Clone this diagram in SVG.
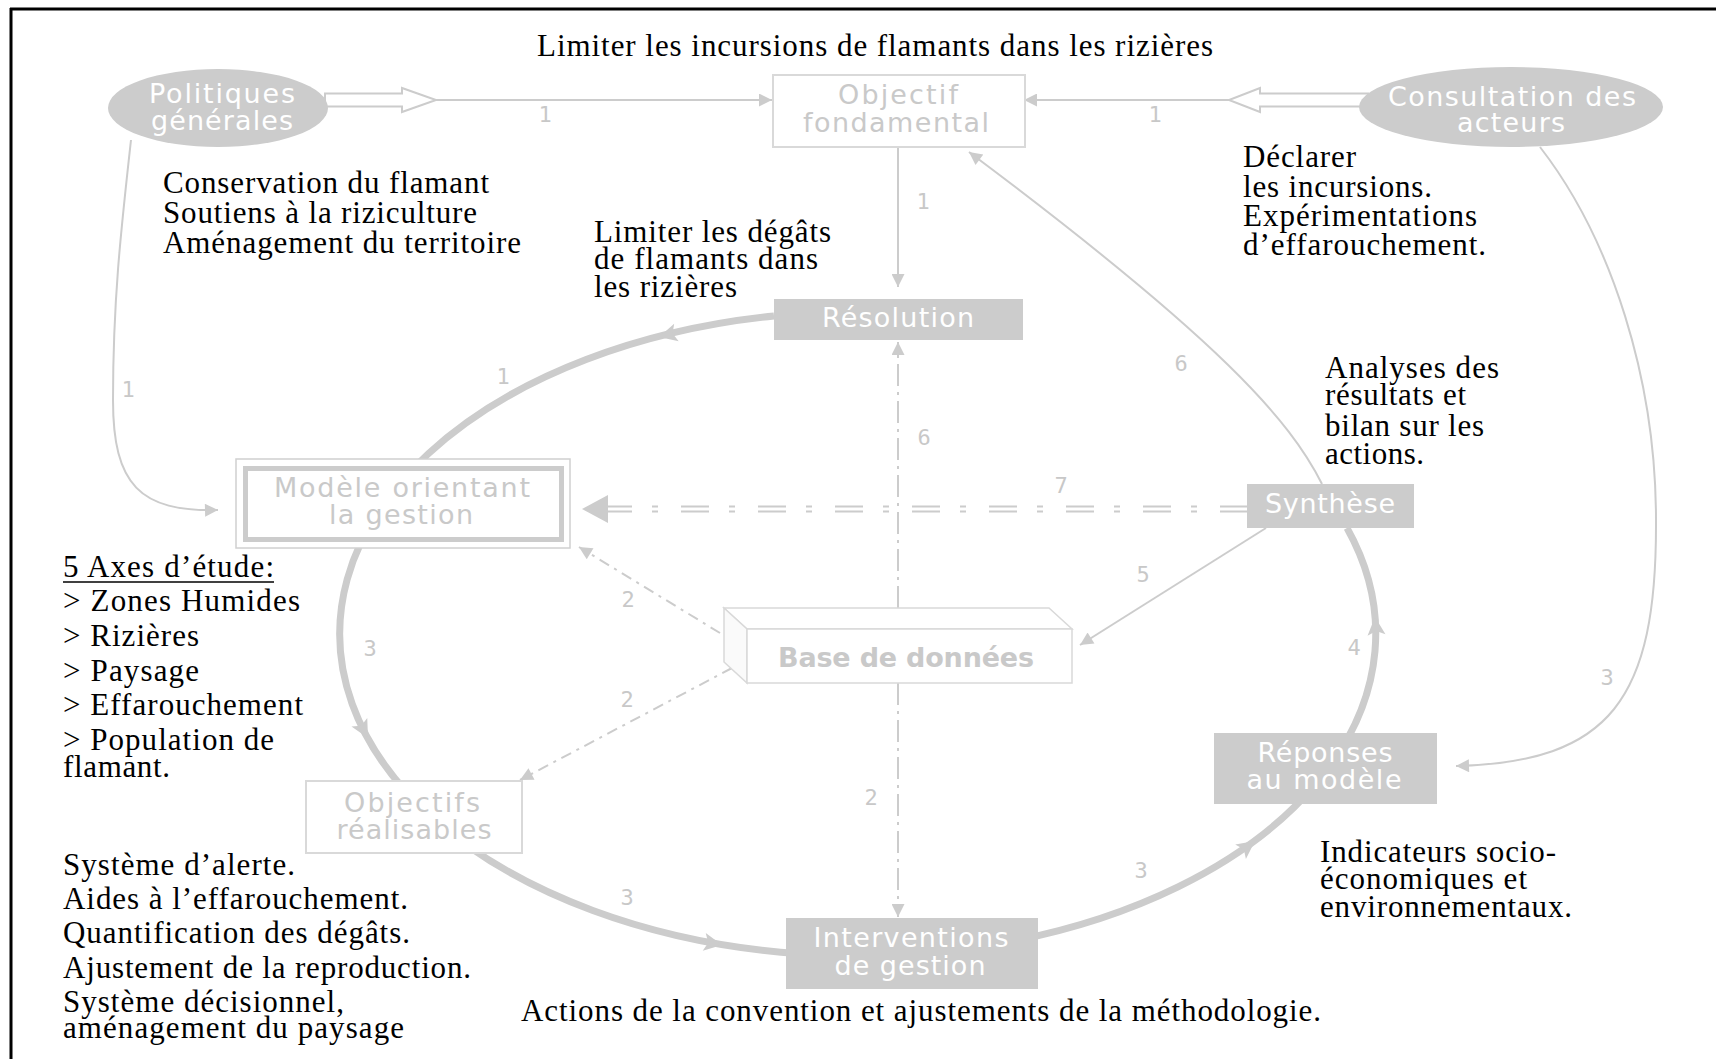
<svg xmlns="http://www.w3.org/2000/svg" width="1716" height="1059" viewBox="0 0 1716 1059">
<defs>
<style>
.serif{font-family:"Liberation Serif","Times New Roman",serif;font-size:31px;fill:#000}
.ns{font-family:"DejaVu Sans","Verdana",sans-serif;font-size:27px;text-anchor:middle}
.w{fill:#ffffff}
.g{fill:#c9c9c9}
.lbl{font-family:"DejaVu Sans Mono","Liberation Mono",monospace;font-size:22px;fill:#c8c8c8;text-anchor:middle}
.thin{fill:none;stroke:#cccccc;stroke-width:2}
.dd{fill:none;stroke:#cccccc;stroke-width:2;stroke-dasharray:22 6 3 6}
.dd2{fill:none;stroke:#cccccc;stroke-width:2;stroke-dasharray:11 6 3 6}
.cyc{fill:none;stroke:#cccccc;stroke-width:7}
.ah{fill:#cccccc}
.gb{fill:#cccccc}
</style>
<marker id="arr" viewBox="0 0 10 10" refX="10" refY="5" markerWidth="15" markerHeight="13" markerUnits="userSpaceOnUse" orient="auto">
<path d="M0,0 L10,5 L0,10 z" fill="#cccccc"/>
</marker>
<path id="cah" d="M0,0 L-18,-9 L-14,0 L-18,9 z"/>
</defs>
<rect x="0" y="0" width="1716" height="1059" fill="#ffffff"/>
<g id="frame" stroke="#000" stroke-width="3" fill="none">
<line x1="10" y1="9" x2="1716" y2="9"/>
<line x1="11" y1="8" x2="11" y2="1059"/>
</g>

<g id="connectors">
<path class="cyc" d="M 774 316 A 518 322 0 1 0 1347 528"/>
<use href="#cah" class="ah" transform="translate(659 337) rotate(165.5)"/>
<use href="#cah" class="ah" transform="translate(368 738) rotate(61.3)"/>
<use href="#cah" class="ah" transform="translate(722 945) rotate(9.6)"/>
<use href="#cah" class="ah" transform="translate(1255 841) rotate(-36.6)"/>
<use href="#cah" class="ah" transform="translate(1375 617) rotate(-94.8)"/>
<polygon points="325,93.5 402,93.5 402,88 436,100 402,112 402,106.5 325,106.5" fill="#fff" stroke="#cccccc" stroke-width="2"/>
<line class="thin" x1="436" y1="100" x2="772" y2="100" marker-end="url(#arr)"/>
<polygon points="1368,93.5 1260,93.5 1260,88 1229,100 1260,112 1260,106.5 1368,106.5" fill="#fff" stroke="#cccccc" stroke-width="2"/>
<line class="thin" x1="1229" y1="100" x2="1024" y2="100" marker-end="url(#arr)"/>
<line class="thin" x1="898" y1="147" x2="898" y2="287" marker-end="url(#arr)"/>
<path class="thin" d="M 131 140 C 121 230, 113 300, 113 400 C 113 485, 140 512, 218 510" marker-end="url(#arr)"/>
<path class="thin" d="M 1540 147 C 1612 240, 1656 380, 1656 520 C 1657 700, 1610 762, 1456 766" marker-end="url(#arr)"/>
<path class="thin" d="M 1322 484 C 1290 420, 1220 340, 969 152" marker-end="url(#arr)"/>
<line class="thin" x1="1266" y1="528" x2="1080" y2="645" marker-end="url(#arr)"/>
<line class="dd" x1="898" y1="608" x2="898" y2="342" marker-end="url(#arr)"/>
<line class="dd" x1="898" y1="683" x2="898" y2="917" marker-end="url(#arr)"/>
<line class="dd2" x1="720" y1="633" x2="579" y2="547" marker-end="url(#arr)"/>
<line class="dd2" x1="732" y1="668" x2="520" y2="780" marker-end="url(#arr)"/>
<g stroke="#cccccc" stroke-width="2" fill="none" stroke-dasharray="28 20 6 23">
<line x1="604" y1="506.5" x2="1247" y2="506.5"/>
<line x1="604" y1="511.5" x2="1247" y2="511.5"/>
</g>
<polygon class="ah" points="582,509 608,495 608,523"/>
<g>
<text class="lbl" x="545" y="122">1</text>
<text class="lbl" x="1155" y="122">1</text>
<text class="lbl" x="923" y="209">1</text>
<text class="lbl" x="128" y="397">1</text>
<text class="lbl" x="503" y="384">1</text>
<text class="lbl" x="370" y="656">3</text>
<text class="lbl" x="628" y="607">2</text>
<text class="lbl" x="627" y="707">2</text>
<text class="lbl" x="924" y="445">6</text>
<text class="lbl" x="1061" y="493">7</text>
<text class="lbl" x="1143" y="582">5</text>
<text class="lbl" x="1181" y="371">6</text>
<text class="lbl" x="1354" y="655">4</text>
<text class="lbl" x="1607" y="685">3</text>
<text class="lbl" x="871" y="805">2</text>
<text class="lbl" x="627" y="905">3</text>
<text class="lbl" x="1141" y="878">3</text>
</g>
</g>

<g id="node-politiques">
<ellipse cx="218" cy="108" rx="110" ry="39" class="gb"/>
<text class="ns w" x="222" y="103" textLength="146">Politiques</text>
<text class="ns w" x="222" y="130" textLength="142">générales</text>
</g>
<g id="node-consultation">
<ellipse cx="1511" cy="107" rx="152" ry="40" class="gb"/>
<text class="ns w" x="1512" y="106" textLength="248">Consultation des</text>
<text class="ns w" x="1511" y="132" textLength="108">acteurs</text>
</g>
<g id="node-objectif">
<rect x="773" y="75" width="252" height="72" fill="#fff" stroke="#d9d9d9" stroke-width="2"/>
<text class="ns g" x="898" y="104" textLength="120">Objectif</text>
<text class="ns g" x="896" y="132" textLength="186">fondamental</text>
</g>
<g id="node-resolution">
<rect x="774" y="299" width="249" height="41" class="gb"/>
<text class="ns w" x="898" y="327" textLength="152">Résolution</text>
</g>
<g id="node-modele">
<rect x="236" y="459" width="334" height="89" fill="#fff" stroke="#d0d0d0" stroke-width="1.5"/>
<rect x="245.5" y="468.5" width="316" height="71" fill="#fff" stroke="#cccccc" stroke-width="5"/>
<text class="ns g" x="402" y="497" textLength="256">Modèle orientant</text>
<text class="ns g" x="401" y="524" textLength="144">la gestion</text>
</g>
<g id="node-synthese">
<rect x="1247" y="484" width="167" height="44" class="gb"/>
<text class="ns w" x="1330" y="513" textLength="130">Synthèse</text>
</g>
<g id="node-base">
<polygon points="724,608 1049,608 1072,629 747,629" fill="#fff" stroke="#d9d9d9" stroke-width="1.5"/>
<polygon points="724,608 747,629 747,683 724,662" fill="#fafafa" stroke="#d9d9d9" stroke-width="1.5"/>
<rect x="747" y="629" width="325" height="54" fill="#fff" stroke="#d9d9d9" stroke-width="1.5"/>
<text class="ns g" x="906" y="667" font-weight="bold" textLength="256">Base de données</text>
</g>
<g id="node-objectifs">
<rect x="306" y="781" width="216" height="72" fill="#fff" stroke="#d9d9d9" stroke-width="2"/>
<text class="ns g" x="412" y="812" textLength="136">Objectifs</text>
<text class="ns g" x="414" y="839" textLength="155">réalisables</text>
</g>
<g id="node-interventions">
<rect x="786" y="918" width="252" height="71" class="gb"/>
<text class="ns w" x="911" y="947" textLength="195">Interventions</text>
<text class="ns w" x="910" y="975" textLength="151">de gestion</text>
</g>
<g id="node-reponses">
<rect x="1214" y="733" width="223" height="71" class="gb"/>
<text class="ns w" x="1325" y="762" textLength="135">Réponses</text>
<text class="ns w" x="1324" y="789" textLength="155">au modèle</text>
</g>

<g id="annotations">
<text class="serif" x="537" y="56" textLength="676">Limiter les incursions de flamants dans les rizières</text>
<text class="serif" x="163" y="193" textLength="326">Conservation du flamant</text>
<text class="serif" x="163" y="223" textLength="314">Soutiens à la riziculture</text>
<text class="serif" x="163" y="253" textLength="358">Aménagement du territoire</text>
<text class="serif" x="594" y="242" textLength="237">Limiter les dégâts</text>
<text class="serif" x="594" y="269" textLength="224">de flamants dans</text>
<text class="serif" x="594" y="297" textLength="143">les rizières</text>
<text class="serif" x="1243" y="167" textLength="113">Déclarer</text>
<text class="serif" x="1243" y="197" textLength="189">les incursions.</text>
<text class="serif" x="1243" y="226" textLength="234">Expérimentations</text>
<text class="serif" x="1243" y="255" textLength="243">d’effarouchement.</text>
<text class="serif" x="1325" y="378" textLength="174">Analyses des</text>
<text class="serif" x="1325" y="405" textLength="141">résultats et</text>
<text class="serif" x="1325" y="436" textLength="159">bilan sur les</text>
<text class="serif" x="1325" y="464" textLength="99">actions.</text>
<text class="serif" x="1320" y="862" textLength="236">Indicateurs socio-</text>
<text class="serif" x="1320" y="889" textLength="207">économiques et</text>
<text class="serif" x="1320" y="917" textLength="252">environnementaux.</text>
<text class="serif" x="521" y="1021" textLength="800">Actions de la convention et ajustements de la méthodologie.</text>
<text class="serif" x="63" y="577" textLength="211">5 Axes d’étude:</text>
<line x1="63" y1="582" x2="274" y2="582" stroke="#000" stroke-width="1.5"/>
<text class="serif" x="63" y="611" textLength="237">&gt; Zones Humides</text>
<text class="serif" x="63" y="646" textLength="136">&gt; Rizières</text>
<text class="serif" x="63" y="681" textLength="136">&gt; Paysage</text>
<text class="serif" x="63" y="715" textLength="240">&gt; Effarouchement</text>
<text class="serif" x="63" y="750" textLength="211">&gt; Population de</text>
<text class="serif" x="63" y="777" textLength="107">flamant.</text>
<text class="serif" x="63" y="875" textLength="232">Système d’alerte.</text>
<text class="serif" x="63" y="909" textLength="345">Aides à l’effarouchement.</text>
<text class="serif" x="63" y="943" textLength="347">Quantification des dégâts.</text>
<text class="serif" x="63" y="978" textLength="408">Ajustement de la reproduction.</text>
<text class="serif" x="63" y="1012" textLength="281">Système décisionnel,</text>
<text class="serif" x="63" y="1038" textLength="341">aménagement du paysage</text>
</g>
</svg>
